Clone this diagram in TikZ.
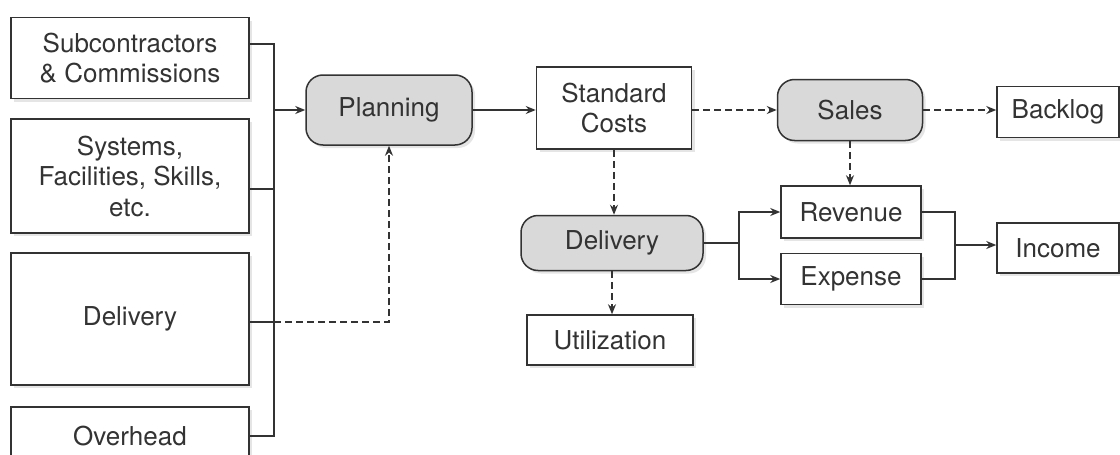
\documentclass[tikz,border=0pt]{standalone}
\usepackage{fontspec}
\setmainfont{TeX Gyre Heros}
\usepackage{tikz}
\usetikzlibrary{positioning,arrows.meta,shadows,calc}
\definecolor{ink}{HTML}{333333}
\definecolor{procfill}{HTML}{D9D9D9}
\tikzset{
  basebox/.style={draw=ink,line width=1.5pt,text=ink,align=center,inner sep=2pt,
    font=\fontsize{26}{30.5}\selectfont,
    drop shadow={fill=black!20,opacity=0.5,shadow xshift=3pt,shadow yshift=-3pt}},
  srcbox/.style={basebox,fill=white,minimum width=238pt},
  resbox/.style={basebox,fill=white},
  proc/.style={basebox,fill=procfill,rounded corners=17pt},
  flow/.style={-{Stealth[length=10pt,width=8pt]},draw=ink,line width=1.8pt},
  dflow/.style={flow,dash pattern=on 7pt off 4pt},
  link/.style={draw=ink,line width=1.6pt},
}

\begin{document}
\begin{tikzpicture}[x=1pt,y=-1pt]
  \useasboundingbox (0,0) rectangle (1120,455);
  % inputs on the left
  \node[srcbox,minimum height=81pt] (sub) at (130,58) {Subcontractors\\\& Commissions};
  \node[srcbox,minimum height=114pt] (sys) at (130,176) {Systems,\\Facilities, Skills,\\etc.};
  \node[srcbox,minimum height=132pt] (dlv) at (130,319) {Delivery};
  \node[srcbox,minimum height=58pt] (ovh) at (130,436) {Overhead};
  % process chain
  \node[proc,minimum width=166pt,minimum height=70pt] (plan) at (389,110) {Planning};
  \node[resbox,minimum width=155pt,minimum height=82pt] (std) at (614,108) {Standard\\Costs};
  \node[proc,minimum width=145pt,minimum height=61pt] (sales) at (850,110) {Sales};
  \node[resbox,minimum width=122pt,minimum height=51pt] (back) at (1058,112) {Backlog};
  \node[proc,minimum width=182pt,minimum height=55pt] (del) at (612,243) {Delivery};
  \node[resbox,minimum width=166pt,minimum height=50pt] (util) at (610,340) {Utilization};
  \node[resbox,minimum width=140pt,minimum height=52pt] (rev) at (851,212) {Revenue};
  \node[resbox,minimum width=140pt,minimum height=51pt] (exp) at (851,279) {Expense};
  \node[resbox,minimum width=122pt,minimum height=50pt] (inc) at (1058,248) {Income};
  % bus and junctions
  \coordinate (btop) at (274,44);
  \coordinate (bsys) at (274,189);
  \coordinate (bdel) at (274,322);
  \coordinate (bbot) at (274,436);
  \coordinate (fork) at (739,243);
  \coordinate (join) at (955,245);
  \draw[link] (sub.east |- btop) -- (btop) -- (bbot) -- (ovh.east |- bbot);
  \draw[link] (sys.east |- bsys) -- (bsys);
  \draw[link] (dlv.east |- bdel) -- (bdel);
  \draw[flow] (plan.west -| btop) -- (plan.west);
  \draw[dflow] (bdel) -| (plan.south);
  \draw[flow] (plan.east) -- (plan.east -| std.west);
  \draw[dflow] (std.east |- sales.west) -- (sales.west);
  \draw[dflow] (sales.east) -- (sales.east -| back.west);
  \draw[dflow] (sales.south) -- (sales.south |- rev.north);
  \draw[dflow] (std.south) -- (std.south |- del.north);
  \draw[dflow] (del.south) -- (del.south |- util.north);
  \draw[link] (del.east |- fork) -- (fork);
  \draw[flow] (fork) |- (rev.west);
  \draw[flow] (fork) |- (exp.west);
  \draw[link] (rev.east) -| (join) |- (exp.east);
  \draw[flow] (join) -- (join -| inc.west);
\end{tikzpicture}
\end{document}
